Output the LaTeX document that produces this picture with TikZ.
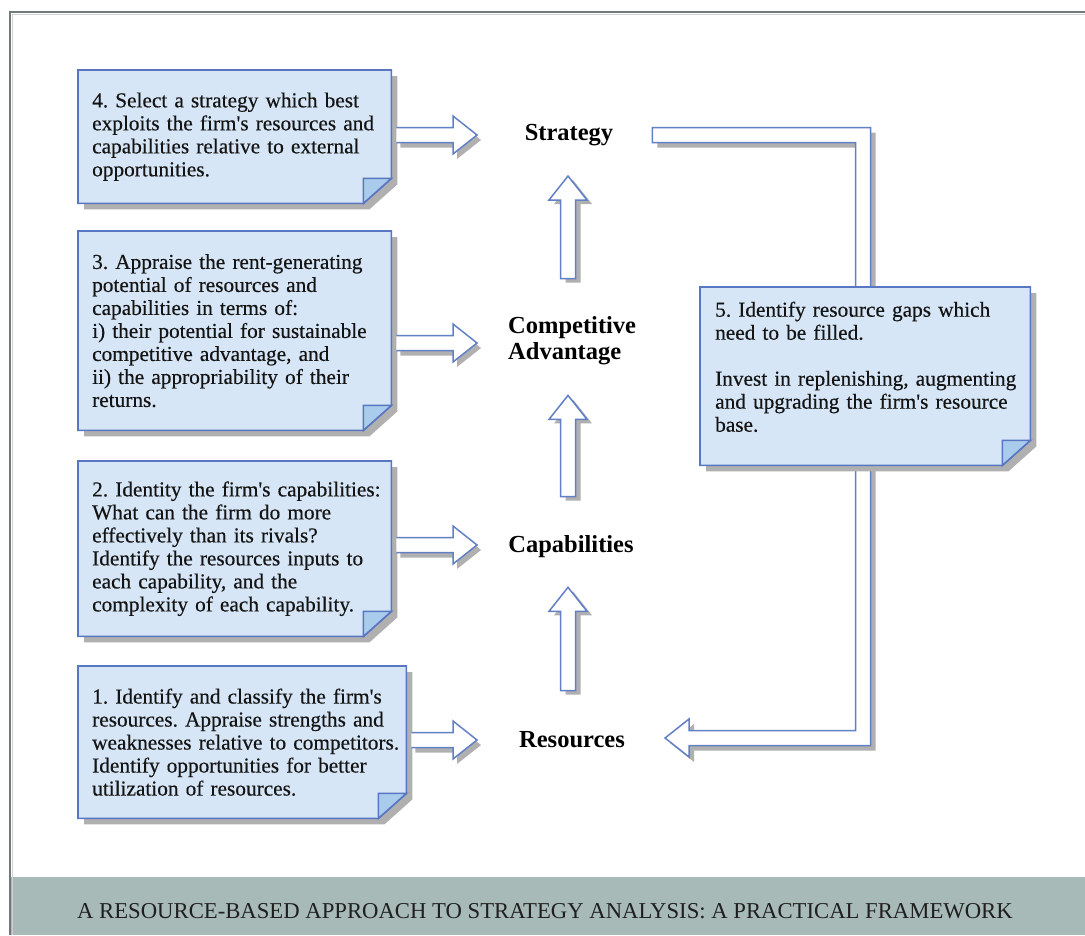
\documentclass[tikz,border=0pt]{standalone}
\usepackage{fontspec}
\setmainfont{Liberation Serif}
\newfontfamily\notefont{Liberation Serif}[FakeBold=0.35]
\usetikzlibrary{calc,backgrounds}

\definecolor{notefill}{RGB}{214,230,246}
\definecolor{foldfill}{RGB}{170,204,236}
\definecolor{noteedge}{RGB}{88,118,194}
\definecolor{arrowedge}{RGB}{98,128,198}
\definecolor{dropshadow}{RGB}{176,176,176}
\definecolor{bandfill}{RGB}{167,186,183}
\definecolor{framegray}{RGB}{112,122,122}

\tikzset{
  notebox/.style={anchor=north west, inner xsep=14pt, inner ysep=0pt, align=left,
    font=\notefont\fontsize{21.3}{23}\selectfont\frenchspacing, text=black!92},
  stagelabel/.style={font=\fontsize{24.5}{26}\selectfont\bfseries, inner sep=0pt, align=left},
  noteline/.style={draw=noteedge, line width=1.6pt, line join=miter},
  arrline/.style={draw=arrowedge, line width=1.5pt, line join=miter},
}

% one unbreakable line of note text
\newcommand\oneline[1]{\mbox{#1}}
\newcommand\apos{\textquotesingle}

% folded note: shadow, body with cut corner, turned-up flap
\newcommand\drawnote[1]{%
  \fill[dropshadow] ($(#1.north west)+(6,6)$) -- ($(#1.north east)+(6,6)$)
    -- ($(#1.south east)+(6,-19)$) -- ($(#1.south east)+(-22,6)$)
    -- ($(#1.south west)+(6,6)$) -- cycle;
  \filldraw[noteline, fill=notefill] (#1.north west) -- (#1.north east)
    -- ($(#1.south east)+(0,-25)$) -- ($(#1.south east)+(-28,0)$)
    -- (#1.south west) -- cycle;
  \filldraw[noteline, fill=foldfill] ($(#1.south east)+(-28,-25)$)
    -- ($(#1.south east)+(0,-25)$) -- ($(#1.south east)+(-28,0)$) -- cycle;
}

% hollow block arrow pointing right, open at its start
\newcommand\rightpts[3]{($(#1)+(#3)+(0,-7.5)$) -- ($(#2)+(#3)+(-24,-7.5)$)
  -- ($(#2)+(#3)+(-24,-19)$) -- ($(#2)+(#3)$) -- ($(#2)+(#3)+(-24,19)$)
  -- ($(#2)+(#3)+(-24,7.5)$) -- ($(#1)+(#3)+(0,7.5)$)}
\newcommand\rightblock[2]{%
  \fill[dropshadow] \rightpts{#1}{#2}{4,5} -- cycle;
  \fill[white] \rightpts{#1}{#2}{0,0} -- cycle;
  \draw[arrline] \rightpts{#1}{#2}{0,0};
}

% hollow block arrow pointing up, closed at its foot
\newcommand\uppts[3]{($(#1)+(#3)+(-7.5,0)$) -- ($(#2)+(#3)+(-7.5,24)$)
  -- ($(#2)+(#3)+(-19,24)$) -- ($(#2)+(#3)$) -- ($(#2)+(#3)+(19,24)$)
  -- ($(#2)+(#3)+(7.5,24)$) -- ($(#1)+(#3)+(7.5,0)$) -- cycle}
\newcommand\upblock[2]{%
  \fill[dropshadow] \uppts{#1}{#2}{5,4};
  \filldraw[arrline, fill=white] \uppts{#1}{#2}{0,0};
}

\begin{document}
\begin{tikzpicture}[x=1pt, y=-1pt]
\useasboundingbox (0,0) rectangle (1085,935);

% step notes
\node[notebox, text width=285pt, minimum width=313pt, minimum height=133pt] (n4) at (78,70)
  {\oneline{4. Select a strategy which best}\\ \oneline{exploits the firm\apos s resources and}\\
   \oneline{capabilities relative to external}\\ \oneline{opportunities.}};
\node[notebox, text width=285pt, minimum width=313pt, minimum height=199pt] (n3) at (78,231)
  {\oneline{3. Appraise the rent-generating}\\ \oneline{potential of resources and}\\
   \oneline{capabilities in terms of:}\\ \oneline{i) their potential for sustainable}\\
   \oneline{competitive advantage, and}\\ \oneline{ii) the appropriability of their}\\ \oneline{returns.}};
\node[notebox, text width=285pt, minimum width=313pt, minimum height=175pt] (n2) at (78,461)
  {\oneline{2. Identity the firm\apos s capabilities:}\\ \oneline{What can the firm do more}\\
   \oneline{effectively than its rivals?}\\ \oneline{Identify the resources inputs to}\\
   \oneline{each capability, and the}\\ \oneline{complexity of each capability.}};
\node[notebox, text width=300pt, minimum width=328pt, minimum height=152pt] (n1) at (78,666)
  {\oneline{1. Identify and classify the firm\apos s}\\ \oneline{resources. Appraise strengths and}\\
   \oneline{weaknesses relative to competitors.}\\ \oneline{Identify opportunities for better}\\
   \oneline{utilization of resources.}};
\node[notebox, inner xsep=15pt, text width=300pt, minimum width=330pt, minimum height=178pt] (n5) at (700,287)
  {\oneline{5. Identify resource gaps which}\\ \oneline{need to be filled.}\\[23pt]
   \oneline{Invest in replenishing, augmenting}\\ \oneline{and upgrading the firm\apos s resource}\\
   \oneline{base.}\\[-4pt]\mbox{}};

% stages
\node[stagelabel] (strat) at (569,135) {Strategy};
\node[stagelabel, anchor=west] (comp) at (508,341) {Competitive\\Advantage};
\node[stagelabel] (capab) at (571,547) {Capabilities};
\node[stagelabel] (resrc) at (572,740) {Resources};

% caption
\node[font=\fontsize{22.7}{24}\selectfont, text=black!88] (title) at (545,911)
  {A RESOURCE-BASED APPROACH TO STRATEGY ANALYSIS: A PRACTICAL FRAMEWORK};

% guide columns for the arrows
\coordinate (tipcol) at (477,0);
\coordinate (upcol) at (568,0);
\coordinate (loopcol) at (863,0);

% feedback loop from strategy back to resources, passing behind note 5
\coordinate (la) at ($(strat.east)+(39,0)$);
\coordinate (lt) at ($(resrc.east)+(40,-2)$);
\coordinate (lc1) at (loopcol |- la);
\coordinate (lc2) at (loopcol |- lt);
\begin{pgfonlayer}{background}
  \fill[white] (0,0) rectangle (1085,935);
  % frame and caption band
  \fill[bandfill] (10,877) rectangle (1085,935);
  \draw[black!18, line width=1.5pt] (12.5,935) -- (12.5,14.5) -- (1085,14.5);
  \draw[framegray, line width=1.5pt] (10,935) -- (10,12) -- (1085,12);
  % loop arrow
  \fill[dropshadow] ($(la)+(5,-2.5)$) -- ($(lc1)+(12.5,-2.5)$) -- ($(lc2)+(12.5,12.5)$)
    -- ($(lt)+(29,12.5)$) -- ($(lt)+(29,24)$) -- ($(lt)+(5,5)$) -- ($(lt)+(29,-14)$)
    -- ($(lt)+(29,-2.5)$) -- ($(lc2)+(-2.5,-2.5)$) -- ($(lc1)+(-2.5,12.5)$)
    -- ($(la)+(5,12.5)$) -- cycle;
  \filldraw[arrline, fill=white] ($(la)+(0,-7.5)$) -- ($(lc1)+(7.5,-7.5)$) -- ($(lc2)+(7.5,7.5)$)
    -- ($(lt)+(24,7.5)$) -- ($(lt)+(24,19)$) -- (lt) -- ($(lt)+(24,-19)$)
    -- ($(lt)+(24,-7.5)$) -- ($(lc2)+(-7.5,-7.5)$) -- ($(lc1)+(-7.5,7.5)$)
    -- ($(la)+(0,7.5)$) -- cycle;
  % note bodies
  \drawnote{n4}
  \drawnote{n3}
  \drawnote{n2}
  \drawnote{n1}
  \drawnote{n5}
\end{pgfonlayer}

% notes feed their stages
\coordinate (h4s) at ($(n4.east |- strat)+(5,0)$);
\coordinate (h4t) at (tipcol |- strat);
\rightblock{h4s}{h4t}
\coordinate (h3s) at ($(n3.east |- comp)+(5,2)$);
\coordinate (h3t) at ($(tipcol |- comp)+(0,2)$);
\rightblock{h3s}{h3t}
\coordinate (h2s) at ($(n2.east |- capab)+(5,-2)$);
\coordinate (h2t) at ($(tipcol |- capab)+(0,-2)$);
\rightblock{h2s}{h2t}
\coordinate (h1s) at ($(n1.east |- resrc)+(5,0)$);
\coordinate (h1t) at (tipcol |- resrc);
\rightblock{h1s}{h1t}

% stages build on one another
\coordinate (v1b) at ($(upcol |- comp.north)+(0,-38)$);
\coordinate (v1t) at ($(upcol |- strat.south)+(0,30)$);
\upblock{v1b}{v1t}
\coordinate (v2b) at ($(upcol |- capab.north)+(0,-39)$);
\coordinate (v2t) at ($(upcol |- comp.south)+(0,30)$);
\upblock{v2b}{v2t}
\coordinate (v3b) at ($(upcol |- resrc.north)+(0,-41)$);
\coordinate (v3t) at ($(upcol |- capab.south)+(0,29)$);
\upblock{v3b}{v3t}
\end{tikzpicture}
\end{document}
